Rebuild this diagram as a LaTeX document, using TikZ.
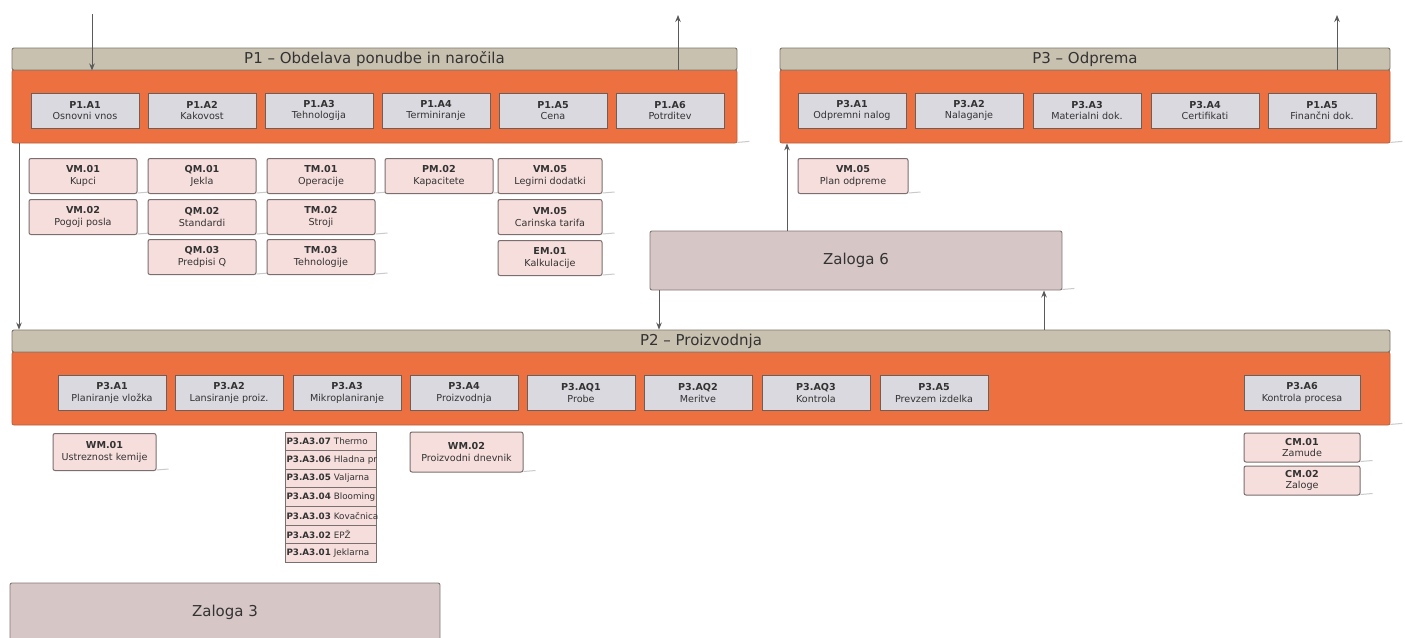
\documentclass[tikz,border=0pt]{standalone}
\usepackage{fontspec}
\setmainfont{DejaVu Sans}
\usetikzlibrary{arrows.meta}
\definecolor{orng}{HTML}{EC7040}
\definecolor{orline}{HTML}{B8603C}
\definecolor{tan}{HTML}{C9C1B0}
\definecolor{hdrline}{HTML}{7E766B}
\definecolor{actfill}{HTML}{D9D9DF}
\definecolor{actline}{HTML}{6A605B}
\definecolor{datfill}{HTML}{F6DEDC}
\definecolor{datline}{HTML}{7A6E6E}
\definecolor{zfill}{HTML}{D6C6C6}
\definecolor{zline}{HTML}{857979}
\definecolor{txt}{HTML}{333333}
\definecolor{cline}{HTML}{5A5A5A}
\definecolor{tailc}{HTML}{CACACA}
\tikzset{
  tail/.style={append after command={([yshift=1pt]\tikzlastnode.south east) edge[draw=tailc, line width=1pt] ++(12,-1)}},
  hdr/.style={draw=hdrline, fill=tan, line width=0.9pt, rounded corners=2pt, minimum height=22pt, inner sep=0pt, font=\fontsize{15}{18}\selectfont, text=txt},
  body/.style={draw=orline, fill=orng, line width=0.8pt, rounded corners=2pt, inner sep=0pt, minimum height=73pt, tail},
  act/.style={draw=actline, fill=actfill, line width=1pt, minimum width=108pt, minimum height=35pt, inner sep=1pt, align=center, font=\fontsize{9.6}{11.5}\selectfont, text=txt},
  dat/.style={act, draw=datline, fill=datfill, rounded corners=2pt, tail},
  lst/.style={draw=datline, fill=datfill, line width=0.9pt, minimum width=91pt, minimum height=18.6pt, text width=88pt, align=left, font=\fontsize{8.8}{9}\selectfont, inner sep=1.5pt, text=txt},
  zal/.style={draw=zline, fill=zfill, line width=0.9pt, rounded corners=2pt, font=\fontsize{15}{18}\selectfont, text=txt, tail},
  conn/.style={draw=cline, line width=1pt, -{Stealth[length=7pt,width=5.5pt]}}
}
\begin{document}
\begin{tikzpicture}[x=1pt,y=-1pt]
\useasboundingbox[fill=white] (0,0) rectangle (1405,637);

% ---- P1 ----
\node[body, minimum width=725pt] (p1b) at (374.5,106.5) {};
\node[hdr, minimum width=725pt] (p1h) at (374.5,59) {P1 – Obdelava ponudbe in naročila};
\node[act] (p1a1) at (85,110.5) {\textbf{P1.A1}\\Osnovni vnos};
\node[act] (p1a2) at (202,110.5) {\textbf{P1.A2}\\Kakovost};
\node[act] (p1a3) at (319,110.5) {\textbf{P1.A3}\\Tehnologija};
\node[act] (p1a4) at (436,110.5) {\textbf{P1.A4}\\Terminiranje};
\node[act] (p1a5) at (553,110.5) {\textbf{P1.A5}\\Cena};
\node[act] (p1a6) at (670,110.5) {\textbf{P1.A6}\\Potrditev};

% ---- P3 ----
\node[body, minimum width=610pt] (p3b) at (1085,106.5) {};
\node[hdr, minimum width=610pt] (p3h) at (1085,59) {P3 – Odprema};
\node[act] (p3a1) at (852,110.5) {\textbf{P3.A1}\\Odpremni nalog};
\node[act] (p3a2) at (969,110.5) {\textbf{P3.A2}\\Nalaganje};
\node[act] (p3a3) at (1087,110.5) {\textbf{P3.A3}\\Materialni dok.};
\node[act] (p3a4) at (1205,110.5) {\textbf{P3.A4}\\Certifikati};
\node[act] (p3a5) at (1322,110.5) {\textbf{P1.A5}\\Finančni dok.};

% ---- data under P1 ----
\node[dat] (vm01) at (83,176) {\textbf{VM.01}\\Kupci};
\node[dat] (vm02) at (83,217) {\textbf{VM.02}\\Pogoji posla};
\node[dat] (qm01) at (202,176) {\textbf{QM.01}\\Jekla};
\node[dat] (qm02) at (202,217) {\textbf{QM.02}\\Standardi};
\node[dat] (qm03) at (202,257) {\textbf{QM.03}\\Predpisi Q};
\node[dat] (tm01) at (321,176) {\textbf{TM.01}\\Operacije};
\node[dat] (tm02) at (321,217) {\textbf{TM.02}\\Stroji};
\node[dat] (tm03) at (321,257) {\textbf{TM.03}\\Tehnologije};
\node[dat] (pm02) at (439,176) {\textbf{PM.02}\\Kapacitete};
\node[dat, minimum width=104pt] (vm05a) at (550,176) {\textbf{VM.05}\\Legirni dodatki};
\node[dat, minimum width=104pt] (vm05b) at (550,217) {\textbf{VM.05}\\Carinska tarifa};
\node[dat, minimum width=104pt] (em01) at (550,258) {\textbf{EM.01}\\Kalkulacije};
\node[dat, minimum width=110pt] (vm05c) at (853,176) {\textbf{VM.05}\\Plan odpreme};

% ---- Zaloga 6 ----
\node[zal, minimum width=412pt, minimum height=59pt] (z6) at (856,260.5) {Zaloga 6};

% ---- P2 ----
\node[body, minimum width=1378pt] (p2b) at (701,388.5) {};
\node[hdr, minimum width=1378pt] (p2h) at (701,341) {P2 – Proizvodnja};
\node[act] (p2a1) at (112,393) {\textbf{P3.A1}\\Planiranje vložka};
\node[act] (p2a2) at (229,393) {\textbf{P3.A2}\\Lansiranje proiz.};
\node[act] (p2a3) at (347,393) {\textbf{P3.A3}\\Mikroplaniranje};
\node[act] (p2a4) at (464,393) {\textbf{P3.A4}\\Proizvodnja};
\node[act] (p2q1) at (581,393) {\textbf{P3.AQ1}\\Probe};
\node[act] (p2q2) at (698,393) {\textbf{P3.AQ2}\\Meritve};
\node[act] (p2q3) at (816,393) {\textbf{P3.AQ3}\\Kontrola};
\node[act] (p2a5) at (934,393) {\textbf{P3.A5}\\Prevzem izdelka};
\node[act, minimum width=116pt] (p2a6) at (1302,393) {\textbf{P3.A6}\\Kontrola procesa};

% ---- data under P2 ----
\node[dat, minimum width=103pt, minimum height=37pt] (wm01) at (104.5,452) {\textbf{WM.01}\\Ustreznost kemije};
\node[dat, minimum width=113pt, minimum height=40pt] (wm02) at (466.5,452) {\textbf{WM.02}\\Proizvodni dnevnik};
\node[dat, minimum width=116pt, minimum height=29pt] (cm01) at (1302,447.5) {\textbf{CM.01}\\Zamude};
\node[dat, minimum width=116pt, minimum height=29pt] (cm02) at (1302,480.5) {\textbf{CM.02}\\Zaloge};

\node[lst] (s07) at (330.5,441.3) {\mbox{\textbf{P3.A3.07} Thermo}};
\node[lst] (s06) at (330.5,459.9) {\mbox{\textbf{P3.A3.06} Hladna pr}};
\node[lst] (s05) at (330.5,478.5) {\mbox{\textbf{P3.A3.05} Valjarna}};
\node[lst] (s04) at (330.5,497.1) {\mbox{\textbf{P3.A3.04} Blooming}};
\node[lst] (s03) at (330.5,515.7) {\mbox{\textbf{P3.A3.03} Kovačnica}};
\node[lst] (s02) at (330.5,534.3) {\mbox{\textbf{P3.A3.02} EPŽ}};
\node[lst] (s01) at (330.5,552.9) {\mbox{\textbf{P3.A3.01} Jeklarna}};

% ---- Zaloga 3 ----
\node[zal, minimum width=430pt, minimum height=59pt] (z3) at (225,612.5) {Zaloga 3};

% ---- connectors ----
\coordinate (in1) at (92,14);
\coordinate (out1) at (678,15);
\coordinate (out3) at (1337,15);
\coordinate (xl1) at (19,0);
\coordinate (xl2) at (787,0);
\coordinate (xl3) at (659,0);
\coordinate (xl4) at (1044,0);
\draw[conn] (in1) -- (in1 |- p1h.south);
\draw[conn] (out1 |- p1h.south) -- (out1);
\draw[conn] (out3 |- p3h.south) -- (out3);
\draw[conn] (xl1 |- p1b.south) -- (xl1 |- p2h.north);
\draw[conn] (xl2 |- z6.north) -- (xl2 |- p3b.south);
\draw[conn] (xl3 |- z6.south) -- (xl3 |- p2h.north);
\draw[conn] (xl4 |- p2h.north) -- (xl4 |- z6.south);
\end{tikzpicture}
\end{document}
